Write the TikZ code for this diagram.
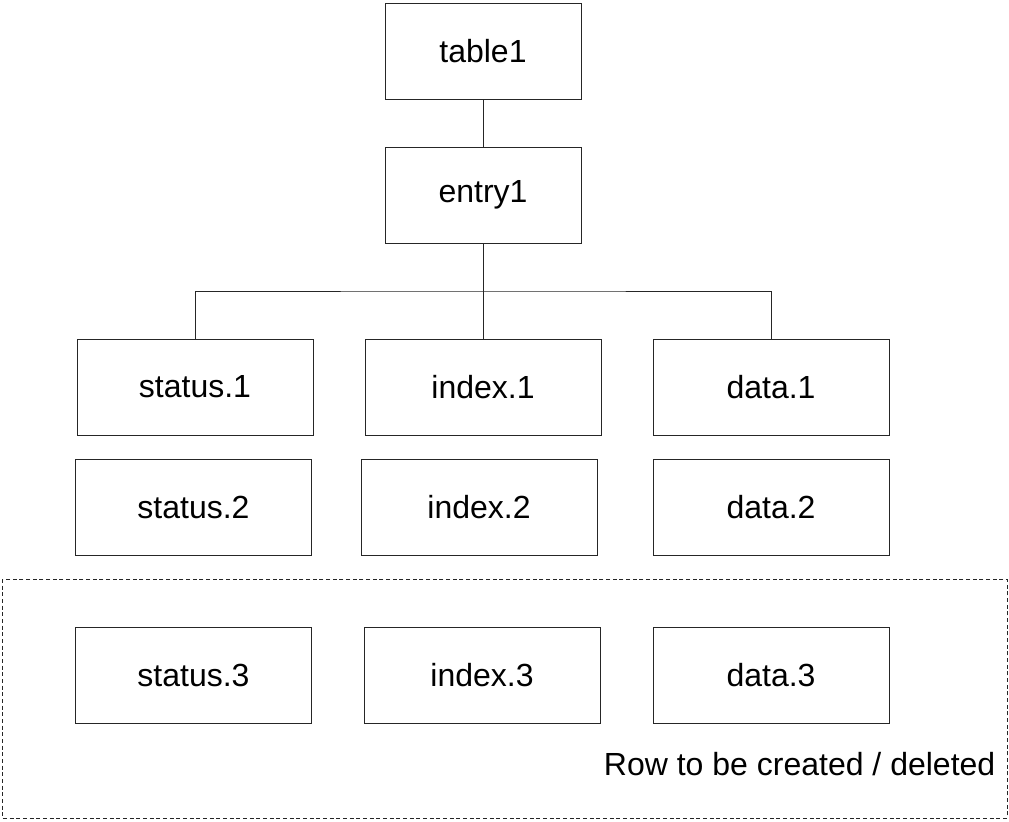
\documentclass[tikz,border=0pt]{standalone}
\usepackage{fontspec}
\setmainfont{Liberation Sans}
\usetikzlibrary{positioning}

\begin{document}
\begin{tikzpicture}[x=0.75pt, y=-0.75pt, every node/.style={font=\fontsize{24}{28}\selectfont}]
    \tikzset{field/.style={draw=black!85, line width=0.75pt, minimum width=177pt, minimum height=72pt, inner sep=0pt},
             link/.style={draw=black!85, line width=0.75pt}}
    \useasboundingbox (0,0) rectangle (1009,821);

    % table and its entry
    \node[field, minimum width=147pt] (table1) at (483,51) {table1};
    \node[field, minimum width=147pt] (entry1) at (483,195) {entry1};
    \draw[link] (table1) -- (entry1);

    % columns of the rows
    \node[field] (status1) at (195,387) {status.1};
    \node[field] (index1) at (483,387) {index.1};
    \node[field] (data1) at (771,387) {data.1};

    \node[field] (status2) at (193.5,507) {status.2};
    \node[field] (index2) at (479,507) {index.2};
    \node[field] (data2) at (771,507) {data.2};

    \node[field] (status3) at (193.5,675) {status.3};
    \node[field] (index3) at (482,675) {index.3};
    \node[field] (data3) at (771,675) {data.3};

    % fork from the entry to the first row
    \coordinate (fork) at (483,291);
    \draw[link] (entry1) -- (fork);
    \draw[link] (status1.north) |- (fork) -| (data1.north);
    \draw[link] (fork) -- (index1);

    % the row that comes and goes
    \draw[black!85, line width=0.75pt, dash pattern=on 3pt off 2pt] (2,579) rectangle (1007,818);
    \node[anchor=base east] (rowlabel) at (1000,775) {Row to be created / deleted};
\end{tikzpicture}
\end{document}
